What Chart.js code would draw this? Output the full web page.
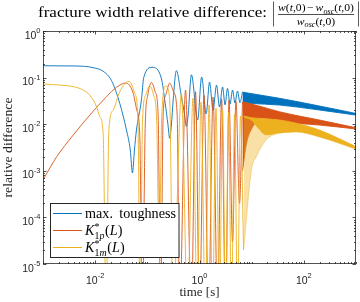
<!DOCTYPE html>
<html><head><meta charset="utf-8">
<script src="https://cdn.jsdelivr.net/npm/chart.js@4/dist/chart.umd.min.js"></script>
<style>html,body{margin:0;padding:0;background:#fff;overflow:hidden}#wrap{position:relative;width:360px;height:302px}</style>
</head><body><div id="wrap"><canvas id="c" width="360" height="302"></canvas></div>
<script>
// ---------------- data ----------------
const maxToughnessTime  = [0.001,0.003,0.006,0.01,0.0142,0.0206,0.0296,0.0398,0.0471,0.0519,0.0566,0.0619,0.077,0.0853,0.123,0.185,0.22,0.249,0.268,0.289,0.313,0.36,0.445,0.519,0.56,0.605,0.70,0.92,1.1,1.34,1.56,1.82,2.12,2.42,2.77,3.09,3.44,3.85,4.3,4.79,5.35,5.97,6.67];
const maxToughnessValue = [0.18,0.178,0.175,0.16,0.137,0.086,0.028,0.0075,0.0028,0.0009,0.0028,0.0075,0.033,0.1,0.166,0.098,0.028,0.0096,0.005,0.0096,0.033,0.141,0.042,0.0157,0.0089,0.0157,0.115,0.0123,0.103,0.0166,0.08,0.020,0.069,0.0234,0.063,0.026,0.0585,0.027,0.054,0.0285,0.0515,0.029,0.049];
const maxToughnessBandTime  = [6.67,9.1,34,198,1000];
const maxToughnessBandUpper = [0.049,0.046,0.036,0.0246,0.017];
const maxToughnessBandLower = [0.029,0.028,0.0258,0.0202,0.0157];

const k1pTime  = [0.001,0.00183,0.0038,0.0079,0.0165,0.0257,0.0386,0.0526,0.0627,0.0716,0.0806,0.0912,0.102,0.12,0.142,0.161,0.18,0.201,0.225,0.268,0.32,0.373,0.416,0.54,0.70,0.84,1.0,1.22,1.49,1.82,2.22,2.65,3.16,3.68,4.3,5.0,5.85,6.67];
const k1pValue = [0.00064,0.002,0.00586,0.0157,0.039,0.062,0.0766,0.049,0.0202,0.0058,1e-6,0.0096,0.042,0.079,0.049,0.0157,1e-6,0.0157,0.042,0.076,0.049,0.0157,1e-6,0.054,1e-6,0.05,1e-6,0.042,1e-6,0.038,1e-6,0.035,1e-6,0.033,3e-5,0.031,2e-4,0.030];
const k1pBandTime  = [6.67,8,10,16,34,198,1000];
const k1pBandUpper = [0.030,0.029,0.027,0.0235,0.0185,0.0123,0.0084];
const k1pBandLower = [0.001,0.004,0.008,0.0136,0.0113,0.0096,0.0079];

const k1mTime  = [0.001,0.00211,0.0038,0.0059,0.0079,0.0106,0.0123,0.0142,0.0162,0.0183,0.0221,0.0296,0.0446,0.0574,0.066,0.073,0.081,0.093,0.111,0.132,0.151,0.169,0.188,0.225,0.268,0.31,0.45,0.59,0.75,0.9,1.07,1.29,1.53,1.78,2.07,2.42,2.77,3.16,3.6,4.1,4.7,5.35,6.1,7.0];
const k1mValue = [0.073,0.069,0.064,0.054,0.042,0.024,0.0145,0.0065,1e-6,0.0075,0.020,0.050,0.083,0.046,0.0123,1e-6,0.0123,0.042,0.066,0.042,0.0123,2e-5,0.0123,0.066,0.035,1e-6,0.045,1e-6,0.036,1e-6,0.030,1e-6,0.026,1e-6,0.022,1e-6,0.020,1e-6,0.018,1e-6,0.0166,1e-6,0.015,2e-5];
const k1mBandTime  = [7,9.9,12.2,18.9,34,71,198,1000];
const k1mBandUpper = [0.015,0.0138,0.0135,0.013,0.0123,0.0105,0.0075,0.0033];
const k1mBandMid   = [0.014,0.012,0.009,0.0058,0.0064,0.0068,0.0053,0.0029];
const k1mBandLower = [0.00002,0.00104,0.002,0.0046,0.0064,0.0068,0.0053,0.0029];

const xTickValues = [0.01, 1, 100];
const xTickLabels = ['10^-2', '10^0', '10^2'];
const yTickValues = [1, 0.1, 0.01, 0.001, 0.0001, 0.00001];
const yTickLabels = ['10^0', '10^-1', '10^-2', '10^-3', '10^-4', '10^-5'];

// ---------------- styling ----------------
const BLUE = '#0072BD', RED = '#D95319', YEL = '#EDB120';
const AX = '#262626';
const SERIF = '"Liberation Serif", "Times New Roman", serif';
const SANS = '"Liberation Sans", Arial, sans-serif';

const pts = (t, v) => t.map((x, i) => ({x: x, y: v[i]}));
const line = (data, color, order, extra) => Object.assign({
  data: data, borderColor: color, backgroundColor: color, borderWidth: 0.9, pointRadius: 0,
  cubicInterpolationMode: 'monotone', fill: false, order: order
}, extra || {});

const datasets = [
  line(pts(maxToughnessTime, maxToughnessValue), BLUE, 3),
  line(pts(maxToughnessBandTime, maxToughnessBandUpper), BLUE, 3, {fill: '+1', backgroundColor: BLUE}),
  line(pts(maxToughnessBandTime, maxToughnessBandLower), BLUE, 3),
  line(pts(k1pTime, k1pValue), RED, 2),
  line(pts(k1pBandTime, k1pBandUpper), RED, 2, {fill: '+1', backgroundColor: RED}),
  line(pts(k1pBandTime, k1pBandLower), RED, 2),
  line(pts(k1mTime, k1mValue), YEL, 1),
  line(pts(k1mBandTime, k1mBandUpper), YEL, 1, {fill: '+1', backgroundColor: YEL}),
  line(pts(k1mBandTime, k1mBandMid), 'rgba(237,177,32,0.5)', 1, {fill: '+1', backgroundColor: 'rgba(237,177,32,0.4)', borderWidth: 0}),
  line(pts(k1mBandTime, k1mBandLower), 'rgba(237,177,32,0.5)', 1)
];

// ---------------- text helpers ----------------
function rich(ctx, segs, x, y, size, draw) {
  let cx = x;
  for (const s of segs) {
    if (s.gap) cx += s.gap * size;
    if (s.supsub) {
      const fs = size * 0.7;
      ctx.font = fs + 'px ' + SERIF;
      const w1 = ctx.measureText(s.supsub.sup).width;
      if (draw) ctx.fillText(s.supsub.sup, cx, y - size * 0.36);
      const w2 = rich(ctx, s.supsub.sub, cx, y + size * 0.24, fs, draw);
      cx += Math.max(w1, w2);
      continue;
    }
    let fs = size, yy = y;
    if (s.pos === 'sub') { fs = size * 0.7; yy = y + size * 0.24; }
    ctx.font = (s.it ? 'italic ' : '') + fs + 'px ' + SERIF;
    if (draw) ctx.fillText(s.t, cx, yy);
    cx += ctx.measureText(s.t).width;
    if (s.after) cx += s.after * size;
  }
  return cx - x;
}
function drawRich(ctx, segs, x, y, size, sx, align) {
  const w = rich(ctx, segs, 0, 0, size, false) * sx;
  let x0 = x;
  if (align === 'center') x0 = x - w / 2;
  ctx.save(); ctx.translate(x0, y); ctx.scale(sx, 1);
  rich(ctx, segs, 0, 0, size, true);
  ctx.restore();
  return w;
}
function fitScale(ctx, segs, size, target) { return target / rich(ctx, segs, 0, 0, size, false); }
function drawPow(ctx, label, x, y, mode) {
  const parts = label.split('^');
  ctx.font = '10.5px ' + SANS; const wb = ctx.measureText(parts[0]).width;
  ctx.font = '7.5px ' + SANS; const we = ctx.measureText(parts[1]).width;
  const tot = wb + we;
  const x0 = mode === 'x' ? x - tot / 2 : x - tot;
  ctx.font = '10.5px ' + SANS; ctx.fillText(parts[0], x0, y);
  ctx.font = '7.5px ' + SANS; ctx.fillText(parts[1], x0 + wb, y - 5.5);
}
function seg(ctx, x1, y1, x2, y2) { ctx.beginPath(); ctx.moveTo(x1, y1); ctx.lineTo(x2, y2); ctx.stroke(); }

const legendItems = [
  {color: BLUE, segs: [{t: 'max.'}, {t: 'toughness', gap: 0.45}]},
  {color: RED, segs: [{t: 'K', it: true}, {supsub: {sup: '*', sub: [{t: '1'}, {t: 'p', it: true}]}}, {t: '(', gap: 0.05}, {t: 'L', it: true}, {t: ')'}]},
  {color: YEL, segs: [{t: 'K', it: true}, {supsub: {sup: '*', sub: [{t: '1'}, {t: 'm', it: true}]}}, {t: '(', gap: 0.05}, {t: 'L', it: true}, {t: ')'}]}
];

const deco = {
  id: 'deco',
  beforeDraw(chart) {
    const c = chart.ctx; c.save(); c.fillStyle = '#fff'; c.fillRect(0, 0, chart.width, chart.height); c.restore();
  },
  afterDraw(chart) {
    const ctx = chart.ctx, a = chart.chartArea, xs = chart.scales.x, ys = chart.scales.y;
    ctx.save();
    // ticks (inside, mirrored)
    ctx.strokeStyle = AX; ctx.lineWidth = 0.8;
    for (let d = -3; d <= 3; d++) for (let m = 1; m <= 9; m++) {
      const v = m * Math.pow(10, d); if (v > 1000.001) break;
      const X = Math.round(xs.getPixelForValue(v)) + 0.5;
      const L = (m === 1 && xTickValues.some(t => Math.abs(t - v) < v * 1e-6)) ? 3.5 : 2;
      seg(ctx, X, a.bottom, X, a.bottom - L); seg(ctx, X, a.top, X, a.top + L);
    }
    for (let d = -5; d <= 0; d++) for (let m = 1; m <= 9; m++) {
      const v = m * Math.pow(10, d); if (v > 1.00001) break;
      const Y = Math.round(ys.getPixelForValue(v)) + 0.5;
      const L = m === 1 ? 3.5 : 2;
      seg(ctx, a.left, Y, a.left + L, Y); seg(ctx, a.right, Y, a.right - L, Y);
    }
    // frame
    ctx.strokeStyle = 'rgba(38,38,38,0.8)'; ctx.lineWidth = 1;
    ctx.strokeRect(a.left + 0.5, a.top + 0.5, a.right - a.left - 1, a.bottom - a.top - 1);
    // legend
    const lx = 50.5, ly = 203.5, lw = 128.5, lh = 54;
    ctx.fillStyle = '#fff'; ctx.fillRect(lx, ly, lw, lh);
    ctx.strokeStyle = AX; ctx.lineWidth = 1; ctx.strokeRect(lx, ly, lw, lh);
    ctx.fillStyle = '#000';
    const lsx = fitScale(ctx, legendItems[0].segs, 15, 91);
    legendItems.forEach((it, i) => {
      const yc = 213.5 + i * 17;
      ctx.strokeStyle = it.color; ctx.lineWidth = 1; seg(ctx, 53, yc, 82, yc);
      ctx.fillStyle = '#000';
      drawRich(ctx, it.segs, 85, yc + 4.5, 15, lsx, 'left');
    });
    // tick labels
    ctx.fillStyle = AX;
    xs.ticks.forEach((t, i) => drawPow(ctx, xTickLabels[i], xs.getPixelForValue(t.value), 283.5, 'x'));
    ys.ticks.forEach((t, i) => drawPow(ctx, yTickLabels[i], 40.5, ys.getPixelForValue(t.value) + 7.5, 'y'));
    // axis titles
    ctx.fillStyle = AX;
    const xt = [{t: 'time [s]'}];
    drawRich(ctx, xt, (a.left + a.right) / 2, 296, 13, fitScale(ctx, xt, 13, 40), 'center');
    const yt = [{t: 'relative difference'}];
    ctx.save(); ctx.translate(12, (a.top + a.bottom) / 2); ctx.rotate(-Math.PI / 2);
    drawRich(ctx, yt, 0, 0, 13, fitScale(ctx, yt, 13, 100), 'center');
    ctx.restore();
    // title
    ctx.fillStyle = '#000';
    const tt = [{t: 'fracture width relative difference:'}];
    drawRich(ctx, tt, 38, 17, 14.5, fitScale(ctx, tt, 14.5, 229), 'left');
    const num = [{t: 'w', it: true}, {t: '('}, {t: 't', it: true}, {t: ',0)'}, {t: '\u2212', gap: 0.15, after: 0.15}, {t: 'w', it: true}, {t: 'osc', it: true, pos: 'sub'}, {t: '('}, {t: 't', it: true}, {t: ',0)'}];
    const den = [{t: 'w', it: true}, {t: 'osc', it: true, pos: 'sub'}, {t: '('}, {t: 't', it: true}, {t: ',0)'}];
    const fsx = fitScale(ctx, num, 10.5, 76);
    drawRich(ctx, num, 316, 11, 10.5, fsx, 'center');
    drawRich(ctx, den, 316, 24.5, 10.5, fsx, 'center');
    ctx.strokeStyle = '#000'; ctx.lineWidth = 0.7;
    seg(ctx, 278, 14.5, 354, 14.5);
    ctx.strokeStyle = '#333'; ctx.lineWidth = 0.8;
    seg(ctx, 273.5, 1.5, 273.5, 26.5); seg(ctx, 358.5, 1.5, 358.5, 26.5);
    ctx.restore();
  }
};

new Chart(document.getElementById('c'), {
  type: 'line',
  data: {datasets: datasets},
  options: {
    responsive: false, animation: false, devicePixelRatio: 1,
    layout: {padding: {top: 31, right: 4, left: 0, bottom: 0}},
    plugins: {legend: {display: false}, tooltip: {enabled: false}, title: {display: false}},
    scales: {
      x: {type: 'logarithmic', min: 1e-3, max: 1e3, grid: {display: false}, border: {display: false},
          ticks: {display: false}, afterBuildTicks: s => { s.ticks = xTickValues.map(v => ({value: v})); },
          afterFit: s => { s.height = 38; }},
      y: {type: 'logarithmic', min: 1e-5, max: 1, grid: {display: false}, border: {display: false},
          ticks: {display: false}, afterBuildTicks: s => { s.ticks = yTickValues.map(v => ({value: v})); },
          afterFit: s => { s.width = 43; }}
    }
  },
  plugins: [deco]
});
</script></body></html>
